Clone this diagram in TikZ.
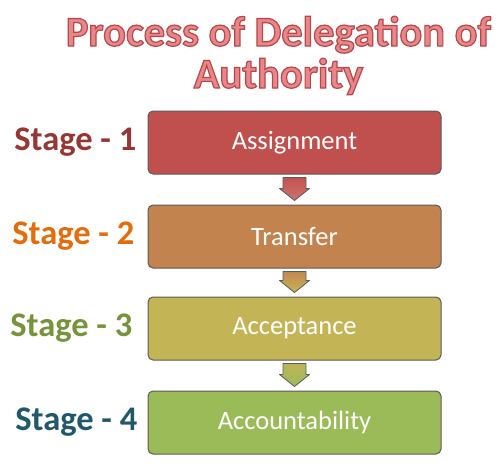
\documentclass[tikz,border=0pt]{standalone}
\usepackage{fontspec}
\setmainfont{Carlito}
\usetikzlibrary{positioning}
\definecolor{titlefill}{HTML}{E8878A}
\definecolor{titleline}{HTML}{B8474A}
\definecolor{boxa}{HTML}{C0504D}
\definecolor{boxb}{HTML}{C3834F}
\definecolor{boxc}{HTML}{C3B456}
\definecolor{boxd}{HTML}{9BBB59}
\definecolor{stagea}{HTML}{953735}
\definecolor{stageb}{HTML}{E46C0A}
\definecolor{stagec}{HTML}{77933C}
\definecolor{staged}{HTML}{215968}
\definecolor{rim}{HTML}{5A5A5A}
% fill and stroke the glyphs (xdvipdfmx)
\newcommand{\outlined}[1]{{\color{titlefill}\special{pdf:literal direct 2 Tr 1.2 w 0.722 0.278 0.290 RG}#1\special{pdf:literal direct 0 Tr 0.4 w}}}
\begin{document}
\begin{tikzpicture}[x=1pt,y=-1pt]
        \useasboundingbox (0,0) rectangle (500,469);
        \begin{scope}[every node/.style={inner sep=0pt,font=\fontsize{42.5}{42}\selectfont\bfseries,anchor=base}]
            \node (title) at (278.5,46) {\outlined{Process of Delegation of}};
            \node (title2) at (278.5,88) {\outlined{Authority}};
        \end{scope}
        \begin{scope}[every node/.style={rectangle,rounded corners=5pt,draw=rim,line width=1pt,minimum width=293pt,minimum height=63pt,text=white,font=\fontsize{26.5}{30}\selectfont}]
            \node[fill=boxa] (a) at (294.5,142.5) {Assignment};
            \node[fill=boxb] (b) at (294.5,236.5) {Transfer};
            \node[fill=boxc] (c) at (294.5,328.5) {Acceptance};
            \node[fill=boxd] (d) at (294.5,422.5) {Accountability};
        \end{scope}
        \begin{scope}[every node/.style={font=\fontsize{34.5}{40}\selectfont\bfseries,inner sep=0pt}]
            \node[stagea,left=11pt of a] (sa) {Stage - 1};
            \node[stageb,left=13pt of b] (sb) {Stage - 2};
            \node[stagec,left=15pt of c] (sc) {Stage - 3};
            \node[staged,left=10pt of d] (sd) {Stage - 4};
        \end{scope}
        \begin{scope}[every edge/.style={draw=rim,line width=0.8pt,line join=round,
                to path={([xshift=-11.5pt,yshift=-3pt]\tikztostart) -- ([xshift=-11.5pt,yshift=16pt]\tikztotarget)
                    -- ([xshift=-15pt,yshift=16pt]\tikztotarget) -- ([yshift=4pt]\tikztotarget)
                    -- ([xshift=15pt,yshift=16pt]\tikztotarget) -- ([xshift=11.5pt,yshift=16pt]\tikztotarget)
                    -- ([xshift=11.5pt,yshift=-3pt]\tikztostart) -- cycle}}]
            \path (a.south) edge[top color=boxa,bottom color=boxa!80!white] (b.north)
                  (b.south) edge[top color=boxb,bottom color=boxc] (c.north)
                  (c.south) edge[top color=boxc,bottom color=boxd] (d.north);
        \end{scope}
    \end{tikzpicture}
\end{document}
